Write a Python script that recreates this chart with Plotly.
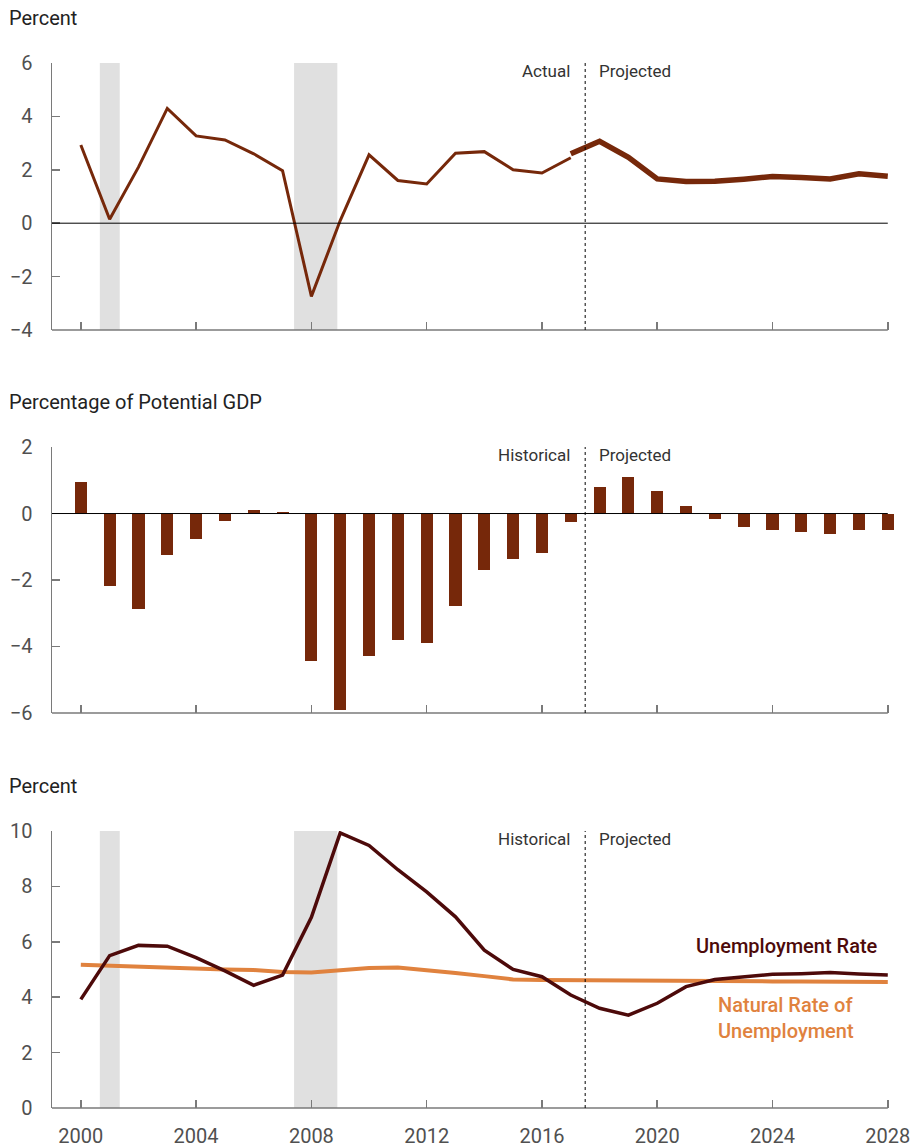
import plotly.graph_objects as go

# ---------------- data ----------------
years_actual = list(range(2000, 2018))
gdp_actual = [2.93, 0.15, 2.1, 4.3, 3.27, 3.12, 2.6, 1.97, -2.74, 0.1, 2.56, 1.6, 1.47,
              2.62, 2.68, 2.0, 1.88, 2.45]
years_proj = list(range(2017, 2029))
gdp_proj = [2.6, 3.07, 2.47, 1.66, 1.56, 1.57, 1.65, 1.75, 1.71, 1.66, 1.85, 1.76]

years_all = list(range(2000, 2029))
output_gap = [0.96, -2.19, -2.88, -1.26, -0.78, -0.21, 0.12, 0.06, -4.44, -5.91, -4.29,
              -3.81, -3.90, -2.79, -1.71, -1.38, -1.20, -0.27, 0.81, 1.11, 0.69, 0.24,
              -0.15, -0.42, -0.51, -0.57, -0.63, -0.51, -0.51]

unemployment = [3.92, 5.5, 5.87, 5.84, 5.43, 4.95, 4.43, 4.8, 6.88, 9.93, 9.48, 8.6, 7.8,
                6.9, 5.7, 5.0, 4.74, 4.08, 3.6, 3.35, 3.78, 4.38, 4.64, 4.74, 4.83, 4.85,
                4.89, 4.84, 4.8]
natural_rate = [5.17, 5.13, 5.09, 5.05, 5.02, 5.0, 4.98, 4.91, 4.89, 4.97, 5.05, 5.07, 4.98,
                4.87, 4.76, 4.64, 4.62, 4.61, 4.61, 4.6, 4.6, 4.59, 4.59, 4.58, 4.57, 4.57,
                4.56, 4.56, 4.55]

recessions = [(2000.66, 2001.35), (2007.4, 2008.9)]
split_year = 2017.5
x_ticks = [2000, 2004, 2008, 2012, 2016, 2020, 2024, 2028]

# ---------------- style ----------------
BROWN = "#76280a"
DARK = "#4d0a0a"
ORANGE = "#e0823e"
GRAY_AX = "#7a7a7a"
TICK_FONT = dict(family="Roboto", size=20, color="#505050")
TEXT_FONT = dict(family="Roboto", size=20, color="#222222")
NOTE_FONT = dict(family="Roboto", size=17, color="#333333")

X_RANGE = [1999, 2028.25]
domains = [[0.7445, 1.0], [0.378, 0.6325], [0.0, 0.2651]]
y_ranges = [[-4, 6], [-6, 2], [0, 10]]
y_ticks = [[-4, -2, 0, 2, 4, 6], [-6, -4, -2, 0, 2], [0, 2, 4, 6, 8, 10]]

fig = go.Figure()

fig.add_trace(go.Scatter(x=years_actual, y=gdp_actual, mode="lines",
                         line=dict(color=BROWN, width=3), xaxis="x", yaxis="y",
                         showlegend=False))
fig.add_trace(go.Scatter(x=years_proj, y=gdp_proj, mode="lines",
                         line=dict(color=BROWN, width=5.5), xaxis="x", yaxis="y",
                         showlegend=False))

fig.add_trace(go.Bar(x=years_all, y=output_gap, width=0.42, marker=dict(color=BROWN, line=dict(width=0)),
                     xaxis="x2", yaxis="y2", showlegend=False))

fig.add_trace(go.Scatter(x=years_all, y=natural_rate, mode="lines",
                         line=dict(color=ORANGE, width=4), xaxis="x3", yaxis="y3",
                         showlegend=False))
fig.add_trace(go.Scatter(x=years_all, y=unemployment, mode="lines",
                         line=dict(color=DARK, width=3.5), xaxis="x3", yaxis="y3",
                         showlegend=False))

shapes = []
annotations = []
for i in range(3):
    xn = "x" if i == 0 else f"x{i+1}"
    yn = "y" if i == 0 else f"y{i+1}"
    if i != 1:
        for a, b in recessions:
            shapes.append(dict(type="rect", xref=xn, yref=f"{yn} domain", x0=a, x1=b,
                               y0=0, y1=1, fillcolor="#e0e0e0", line=dict(width=0),
                               layer="below"))
    shapes.append(dict(type="line", xref=xn, yref=f"{yn} domain", x0=X_RANGE[0], x1=2028,
                       y0=0, y1=0, line=dict(color=GRAY_AX, width=1.5), layer="above"))
    if i != 2:
        shapes.append(dict(type="line", xref=xn, yref=yn, x0=X_RANGE[0], x1=2028,
                           y0=0, y1=0, line=dict(color="black", width=1), layer="above"))
    shapes.append(dict(type="line", xref=xn, yref=f"{yn} domain", x0=split_year, x1=split_year,
                       y0=0, y1=1, line=dict(color="black", width=1, dash="dot"), layer="above"))
    left = "Actual" if i == 0 else "Historical"
    annotations.append(dict(text=left, xref=xn, yref=f"{yn} domain", x=split_year, y=1,
                            xanchor="right", yanchor="middle", xshift=-13, yshift=-8,
                            showarrow=False, font=NOTE_FONT))
    annotations.append(dict(text="Projected", xref=xn, yref=f"{yn} domain", x=split_year, y=1,
                            xanchor="left", yanchor="middle", xshift=12, yshift=-8,
                            showarrow=False, font=NOTE_FONT))

titles = ["Percent", "Percentage of Potential GDP", "Percent"]
for i, t in enumerate(titles):
    yn = "y" if i == 0 else f"y{i+1}"
    annotations.append(dict(text=t, xref="paper", yref=f"{yn} domain", x=0, y=1,
                            xanchor="left", yanchor="middle", xshift=-45, yshift=45,
                            showarrow=False, font=TEXT_FONT))

annotations.append(dict(text="Unemployment Rate", xref="x3", yref="y3", x=2027.74, y=5.83,
                        xanchor="right", yanchor="middle", showarrow=False,
                        font=dict(family="Roboto", size=20, color=DARK, weight=500)))
annotations.append(dict(text="Natural Rate of<br>Unemployment", xref="x3", yref="y3",
                        x=2022.05, y=3.25, xanchor="left", yanchor="middle", align="left",
                        showarrow=False,
                        font=dict(family="Roboto", size=20, color=ORANGE, weight=500)))

layout = dict(
    width=911, height=1147, autosize=False,
    margin=dict(l=52, r=16, t=63, b=39, autoexpand=False),
    plot_bgcolor="white", paper_bgcolor="white",
    shapes=shapes, annotations=annotations, bargap=0,
)
for i in range(3):
    xk = "xaxis" if i == 0 else f"xaxis{i+1}"
    yk = "yaxis" if i == 0 else f"yaxis{i+1}"
    yn = "y" if i == 0 else f"y{i+1}"
    xn = "x" if i == 0 else f"x{i+1}"
    layout[xk] = dict(domain=[0, 1], anchor=yn, range=X_RANGE, tickvals=x_ticks,
                      ticktext=[str(v) for v in x_ticks], showticklabels=(i == 2),
                      ticks="inside", ticklen=8, tickcolor=GRAY_AX, tickwidth=1.5,
                      showline=False, showgrid=False, zeroline=False, automargin=False,
                      tickfont=TICK_FONT, ticklabelstandoff=14, fixedrange=True)
    layout[yk] = dict(domain=domains[i], anchor=xn, range=y_ranges[i], tickvals=y_ticks[i],
                      ticks="inside", ticklen=8, tickcolor=GRAY_AX, tickwidth=1.5,
                      showline=True, linecolor=GRAY_AX, linewidth=1.5, automargin=False,
                      showgrid=False, zeroline=False, tickfont=TICK_FONT,
                      ticklabelstandoff=14, fixedrange=True)

fig.update_layout(**layout)
fig.write_html(
    "out.html",
    config={"displayModeBar": False, "staticPlot": True},
    post_script=("document.documentElement.style.margin='0';"
                 "document.documentElement.style.overflow='hidden';"
                 "document.body.style.margin='0';"
                 "document.body.style.overflow='hidden';"),
)
